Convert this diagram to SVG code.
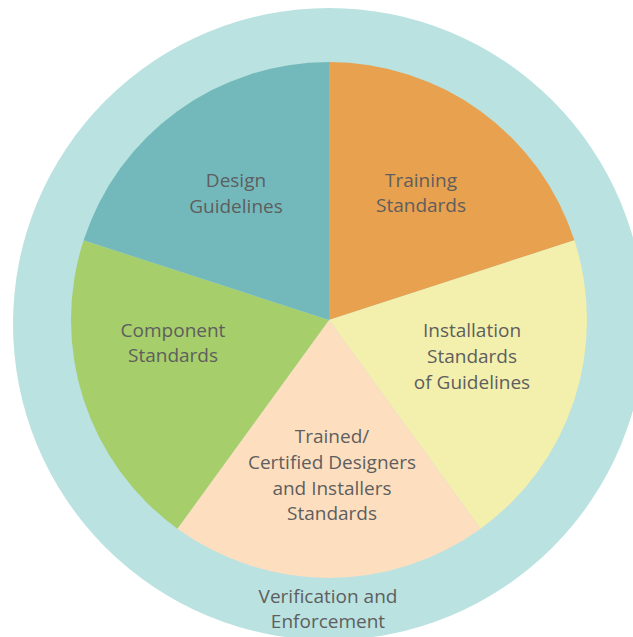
<svg xmlns="http://www.w3.org/2000/svg" width="633" height="637" viewBox="0 0 633 637">
  <style>
    .lbl { font-family: "Open Sans", "Liberation Sans", sans-serif; font-size: 19px; fill: #5e5e5e; text-anchor: middle; }
  </style>
  <rect width="633" height="637" fill="#ffffff"/>
  <!-- outer ring -->
  <g id="ring">
    <circle cx="329" cy="324" r="316" fill="#bae2e0"/>
  </g>
  <!-- pie slices, centre (329,320), radius 258 -->
  <g id="training">
    <path d="M329,320 L329,62 A258,258 0 0 1 574.4,240.3 Z" fill="#e8a14f"/>
    <text class="lbl" x="421" y="187">Training</text>
    <text class="lbl" x="421" y="212">Standards</text>
  </g>
  <g id="installation">
    <path d="M329,320 L574.4,240.3 A258,258 0 0 1 480.6,528.7 Z" fill="#f3efad"/>
    <text class="lbl" x="472" y="337">Installation</text>
    <text class="lbl" x="472" y="363">Standards</text>
    <text class="lbl" x="472" y="389">of Guidelines</text>
  </g>
  <g id="trained">
    <path d="M329,320 L480.6,528.7 A258,258 0 0 1 177.4,528.7 Z" fill="#fddebf"/>
    <text class="lbl" x="332" y="443">Trained/</text>
    <text class="lbl" x="332" y="469">Certified Designers</text>
    <text class="lbl" x="332" y="495">and Installers</text>
    <text class="lbl" x="332" y="520">Standards</text>
  </g>
  <g id="component">
    <path d="M329,320 L177.4,528.7 A258,258 0 0 1 83.6,240.3 Z" fill="#a6ce6a"/>
    <text class="lbl" x="173" y="337">Component</text>
    <text class="lbl" x="173" y="362">Standards</text>
  </g>
  <g id="design">
    <path d="M329,320 L83.6,240.3 A258,258 0 0 1 329,62 Z" fill="#73b9bc"/>
    <text class="lbl" x="236" y="187">Design</text>
    <text class="lbl" x="236" y="213">Guidelines</text>
  </g>
  <g id="verification">
    <text class="lbl" x="328" y="603">Verification and</text>
    <text class="lbl" x="328" y="628">Enforcement</text>
  </g>
  <g id="connectors"/>
</svg>
